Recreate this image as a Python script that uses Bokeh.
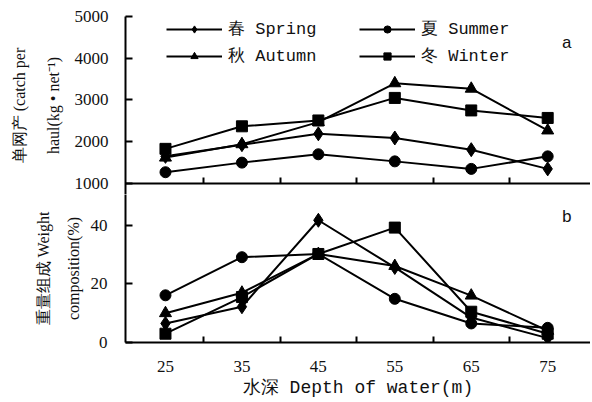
from bokeh.plotting import figure
from bokeh.models import FixedTicker, Legend, LegendItem, Title, Label, Range1d, LinearAxis
from bokeh.layouts import column
from bokeh.embed import file_html
from bokeh.resources import INLINE

depths = [25, 35, 45, 55, 65, 75]
minor_ticks = [30, 40, 50, 60, 70]

catch_spring = [1650, 1930, 2190, 2090, 1810, 1350]
catch_summer = [1270, 1500, 1700, 1530, 1350, 1650]
catch_autumn = [1620, 1940, 2470, 3400, 3270, 2270]
catch_winter = [1830, 2370, 2510, 3050, 2750, 2570]

comp_spring = [6.5, 12.2, 41.7, 25.6, 8.5, 1.5]
comp_summer = [16.1, 29.1, 30.2, 14.9, 6.5, 5.0]
comp_autumn = [10.0, 17.0, 30.2, 26.1, 16.0, 4.0]
comp_winter = [3.0, 15.5, 30.2, 39.2, 10.5, 3.0]

top_yticks = [1000, 2000, 3000, 4000, 5000]
bot_yticks = [0, 20, 40]

labels = ["春 Spring", "夏 Summer", "秋 Autumn", "冬 Winter"]
markers = ["diamond", "circle", "triangle", "square"]
msizes = [14, 11, 12, 11]

SERIF = "Liberation Serif"
MONO = "Liberation Mono"
INK = "#111111"

XR = (19.77, 80.6)
TOP_R = (736.5, 5000)   # top panel range; its x axis sits at 1000
BOT_R = (0, 50.49)


def axstyle(ax):
    ax.axis_line_width = 2
    ax.axis_line_color = "black"
    ax.major_tick_line_width = 2
    ax.minor_tick_line_width = 2
    ax.major_tick_line_color = "black"
    ax.major_label_text_font = SERIF
    ax.major_label_text_font_size = "17px"
    ax.major_label_text_color = INK


def base(p):
    p.outline_line_color = None
    p.xgrid.visible = False
    p.ygrid.visible = False


def ytitle(p, text, standoff):
    p.add_layout(Title(text=text, align="center", text_font=SERIF, text_font_size="16px",
                       text_font_style="normal", text_color=INK, standoff=standoff), "left")


# ---------- top panel (a) ----------
top = figure(width=590, height=194, x_range=Range1d(*XR), y_range=Range1d(*TOP_R),
             output_backend="svg", toolbar_location=None,
             min_border_left=125, min_border_right=0, min_border_top=16, min_border_bottom=0)
base(top)
top.xaxis.visible = False
ty = top.yaxis[0]
axstyle(ty)
ty.ticker = FixedTicker(ticks=top_yticks)
ty.major_tick_in = 7
ty.major_tick_out = 0
ty.minor_tick_line_color = None
ty.major_label_standoff = 17

sep = LinearAxis(fixed_location=1000)
axstyle(sep)
sep.ticker = FixedTicker(ticks=[], minor_ticks=minor_ticks)
sep.major_label_text_font_size = "0px"
sep.major_tick_in = 0
sep.major_tick_out = 0
sep.minor_tick_line_color = "black"
sep.minor_tick_in = 6
sep.minor_tick_out = 0
top.add_layout(sep, "below")

ytitle(top, "haul(kg • net⁻¹)", 20)
ytitle(top, "单网产 (catch per", 9)

items = []
for vals, lab, mk, ms in zip([catch_spring, catch_summer, catch_autumn, catch_winter], labels, markers, msizes):
    lr = top.line(depths, vals, line_color="black", line_width=2)
    sr = top.scatter(depths, vals, marker=mk, size=ms, color="black")
    items.append(LegendItem(label=lab, renderers=[lr, sr]))

for idxs, xloc in [((0, 2), 41), ((1, 3), 234)]:
    lg = Legend(items=[items[i] for i in idxs], location=(xloc, 127), orientation="vertical",
                glyph_width=56, glyph_height=18, label_standoff=6, spacing=4, padding=0, margin=0,
                border_line_color=None, background_fill_alpha=0,
                label_text_font=MONO, label_text_font_size="17px", label_text_color=INK)
    top.add_layout(lg, "center")

top.add_layout(Label(x=77.5, y=4350, text="a", text_font=MONO, text_font_size="17px",
                     text_color=INK, text_align="center", text_baseline="middle"))

# ---------- bottom panel (b) ----------
bot = figure(width=590, height=206, x_range=Range1d(*XR), y_range=Range1d(*BOT_R),
             output_backend="svg", toolbar_location=None,
             min_border_left=125, min_border_right=0, min_border_top=0, min_border_bottom=52)
base(bot)
bx = bot.xaxis[0]
axstyle(bx)
bx.ticker = FixedTicker(ticks=depths, minor_ticks=minor_ticks)
bx.major_tick_line_color = None
bx.minor_tick_line_color = "black"
bx.minor_tick_in = 6
bx.minor_tick_out = 0
bx.major_label_standoff = 12
bx.axis_label = "水深 Depth of water(m)"
bx.axis_label_text_font = MONO
bx.axis_label_text_font_size = "18px"
bx.axis_label_text_font_style = "normal"
bx.axis_label_text_color = INK
bx.axis_label_standoff = 3

by = bot.yaxis[0]
axstyle(by)
by.ticker = FixedTicker(ticks=bot_yticks)
by.major_tick_in = 7
by.major_tick_out = 0
by.minor_tick_line_color = None
by.major_label_standoff = 18

ytitle(bot, "composition(%)", 12)
ytitle(bot, "重量组成 Weight", 10)

for vals, mk, ms in zip([comp_spring, comp_summer, comp_autumn, comp_winter], markers, msizes):
    bot.line(depths, vals, line_color="black", line_width=2)
    bot.scatter(depths, vals, marker=mk, size=ms, color="black")

bot.add_layout(Label(x=77.5, y=42.6, text="b", text_font=MONO, text_font_size="17px",
                     text_color=INK, text_align="center", text_baseline="middle"))

layout = column(top, bot, spacing=0)
open("out.html", "w").write(file_html(layout, INLINE))
